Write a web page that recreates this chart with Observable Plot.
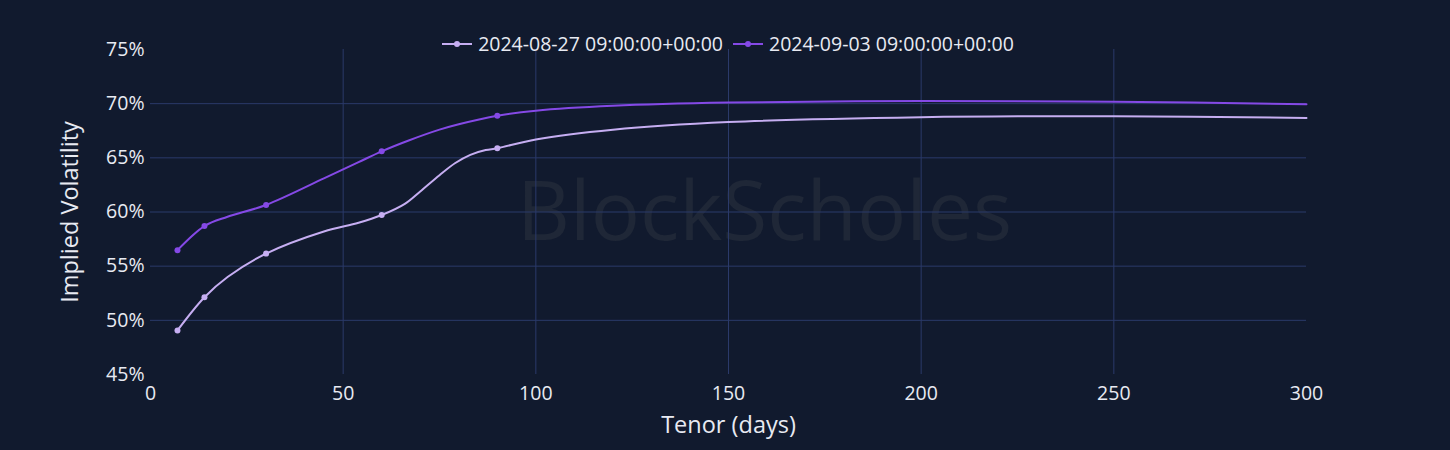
<!DOCTYPE html>
<html>
<head>
<meta charset="utf-8">
<script src="https://cdn.jsdelivr.net/npm/d3@7"></script>
<script src="https://cdn.jsdelivr.net/npm/@observablehq/plot@0.6"></script>
<style>
  html, body { margin: 0; padding: 0; background: #111a2e; }
  #wrap { position: relative; width: 1450px; height: 450px; background: #111a2e; font-family: "Open Sans", "Noto Sans", sans-serif; }
  #legend { position: absolute; top: 31px; left: 0; width: 1456px; display: flex; justify-content: center; gap: 10px; color: #e8eaf2; font-size: 19.5px; line-height: 26px; }
  .item { display: flex; align-items: center; gap: 6px; }
  #chart { position: absolute; top: 0; left: 0; }
</style>
</head>
<body>
<div id="wrap">
  <div id="chart"></div>
  <div id="legend"></div>
</div>
<script>
const seriesNames = ["2024-08-27 09:00:00+00:00", "2024-09-03 09:00:00+00:00"];
const seriesColors = ["#c6aef2", "#8549e6"];
const tenors0827 = [7, 14, 20, 30, 45, 54, 60, 66, 70, 75, 79, 83, 87, 90, 100, 120, 150, 200, 250, 300];
const vol0827 = [49.07, 52.13, 54.0, 56.16, 58.2, 59.0, 59.72, 60.75, 61.9, 63.4, 64.5, 65.28, 65.72, 65.88, 66.7, 67.6, 68.3, 68.75, 68.84, 68.68];
const tenors0903 = [7, 14, 20, 30, 45, 54, 60, 67, 75, 80, 90, 100, 120, 150, 200, 250, 300];
const vol0903 = [56.48, 58.70, 59.56, 60.65, 63.1, 64.6, 65.60, 66.6, 67.6, 68.1, 68.89, 69.35, 69.8, 70.1, 70.25, 70.18, 69.95];
const markerTenors = [7, 14, 30, 60, 90];
const yTicks = [45, 50, 55, 60, 65, 70, 75];
const yGrid = [50, 55, 60, 65, 70];
const xTicks = [0, 50, 100, 150, 200, 250, 300];
const xGrid = [50, 100, 150, 200, 250];

const rows = [];
[[tenors0827, vol0827], [tenors0903, vol0903]].forEach(([ts, vals], i) => {
  ts.forEach((t, j) => rows.push({series: seriesNames[i], tenor: t, vol: vals[j]}));
});
const markerRows = rows.filter(d => markerTenors.includes(d.tenor));

const font = '"Open Sans", "Noto Sans", sans-serif';
const chart = Plot.plot({
  width: 1450,
  height: 450,
  marginLeft: 150,
  marginRight: 144,
  marginTop: 49,
  marginBottom: 76,
  style: {background: "#111a2e", color: "#e8eaf2", fontFamily: font, fontSize: "19.5px"},
  x: {domain: [0, 300]},
  y: {domain: [45, 75]},
  color: {domain: seriesNames, range: seriesColors},
  marks: [
    Plot.text(["BlockScholes"], {frameAnchor: "middle", dx: 36, dy: 2, fontSize: 82, fill: "#1f2737", fontFamily: font}),
    Plot.gridY(yGrid, {stroke: "#2b3a6a", strokeOpacity: 1, strokeWidth: 1}),
    Plot.gridX(xGrid, {stroke: "#2b3a6a", strokeOpacity: 1, strokeWidth: 1}),
    Plot.axisY(yTicks, {tickSize: 0, tickPadding: 6, tickFormat: d => d + "%", label: null, fontSize: 19.5, fill: "#e8eaf2"}),
    Plot.axisX(xTicks, {tickSize: 0, tickPadding: 12, label: null, fontSize: 19.5, fill: "#e8eaf2"}),
    Plot.text(["Implied Volatility"], {frameAnchor: "left", textAnchor: "middle", rotate: -90, dx: -80, fontSize: 23.5, fill: "#e8eaf2"}),
    Plot.text(["Tenor (days)"], {frameAnchor: "bottom", dy: 58, fontSize: 23.5, fill: "#e8eaf2"}),
    Plot.line(rows, {x: "tenor", y: "vol", z: "series", stroke: "series", strokeWidth: 2, curve: "catmull-rom"}),
    Plot.dot(markerRows, {x: "tenor", y: "vol", fill: "series", r: 3})
  ]
});
document.getElementById("chart").appendChild(chart);

const legend = document.getElementById("legend");
seriesNames.forEach((name, i) => {
  const item = document.createElement("div");
  item.className = "item";
  item.innerHTML = `<svg width="30" height="12"><line x1="0" x2="30" y1="6" y2="6" stroke="${seriesColors[i]}" stroke-width="2"/><circle cx="15" cy="6" r="3" fill="${seriesColors[i]}"/></svg><span>${name}</span>`;
  legend.appendChild(item);
});
</script>
</body>
</html>
